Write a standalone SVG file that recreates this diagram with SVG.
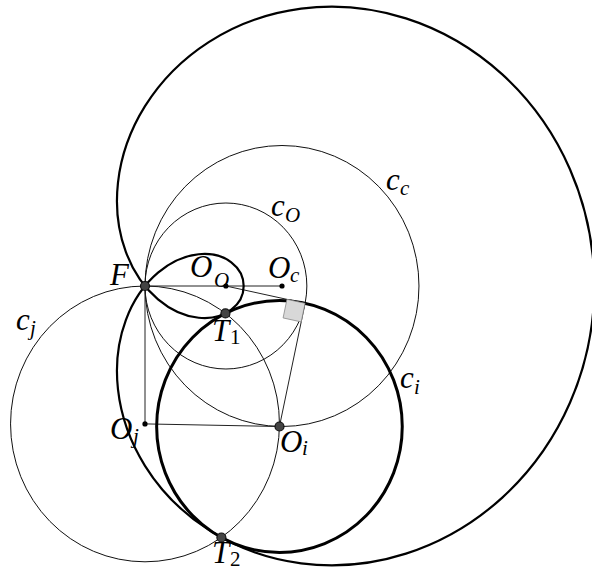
<svg xmlns="http://www.w3.org/2000/svg" width="592" height="575" viewBox="0 0 592 575">
<style>
.thin{fill:none;stroke:#111;stroke-width:1;vector-effect:non-scaling-stroke}
.thick{fill:none;stroke:#000;stroke-width:2.2;vector-effect:non-scaling-stroke}
.thicker{fill:none;stroke:#000;stroke-width:3;vector-effect:non-scaling-stroke}
.ln{fill:none;stroke:#222;stroke-width:1;vector-effect:non-scaling-stroke}
.big{fill:#444;stroke:#111;stroke-width:1.2}
.small{fill:#000}
text{font-family:"Liberation Serif","Times New Roman",serif;font-style:italic;fill:#000}
.m{font-size:31px}
.s{font-size:21px}
.up{font-style:normal}
</style>
<rect width="592" height="575" fill="#fff"/>
<g transform="translate(145 286) scale(0.975 1)">
  <g id="cO"><circle class="thin" cx="83" cy="0" r="83"/></g>
  <g id="cc"><circle class="thin" cx="140.5" cy="0" r="140.5"/></g>
  <g id="cj"><circle class="thin" cx="0" cy="137.9" r="137.9"/></g>
  <g id="connectors">
    <path class="ln" d="M0 0H140.5"/>
    <path class="ln" d="M0 0V137.9"/>
    <path class="ln" d="M0 137.9L137.9 140.5"/>
    <path class="ln" d="M83 0L164.17 17.32"/>
    <path class="ln" d="M137.9 140.5L164.17 17.32"/>
  </g>
  <g id="ci"><circle class="thicker" cx="137.9" cy="140.5" r="125.96"/></g>
  <g id="limacon"><path class="thick" d="M460.8 0C460.8 40.21 452.17 80.40 435.85 116.79C419.53 153.18 395.54 185.73 366.46 211.58C337.38 237.43 303.26 256.54 267.64 267.64C232.02 278.74 194.97 281.81 160.15 277.39C125.33 272.97 92.78 261.10 65.36 243.92C37.94 226.74 15.69 204.32 0 179.8C-15.69 155.28 -24.82 128.72 -27.71 103.42C-30.60 78.12 -27.30 54.15 -19.65 34.04C-12.00 13.93 -0.07 -2.26 13.36 -13.36C26.79 -24.46 41.65 -30.45 55.04 -31.78C68.43 -33.11 80.30 -29.79 88.50 -23.71C96.70 -17.63 101.2 -8.83 101.2 0C101.2 8.83 96.70 17.63 88.50 23.71C80.30 29.79 68.43 33.11 55.04 31.78C41.65 30.45 26.79 24.46 13.36 13.36C-0.07 2.26 -12.00 -13.93 -19.65 -34.04C-27.30 -54.15 -30.60 -78.12 -27.71 -103.42C-24.82 -128.72 -15.69 -155.28 0 -179.8C15.69 -204.32 37.94 -226.74 65.36 -243.92C92.78 -261.10 125.33 -272.97 160.15 -277.39C194.97 -281.81 232.02 -278.74 267.64 -267.64C303.26 -256.54 337.38 -237.43 366.46 -211.58C395.54 -185.73 419.53 -153.18 435.85 -116.79C452.17 -80.40 460.8 -40.21 460.8 0Z"/></g>
  <g id="rightangle"><polygon points="164.17,17.32 145.59,13.35 141.63,31.93 160.21,35.90" fill="#d8d8d8" stroke="#888" stroke-width="0.8" vector-effect="non-scaling-stroke"/></g>
</g>
<g id="labels-circles">
  <text class="m" x="271" y="216">c</text><text class="s" x="285" y="222">O</text>
  <text class="m" x="386" y="190">c</text><text class="s" x="400" y="195">c</text>
  <text class="m" x="16" y="330">c</text><text class="s" x="30" y="335">j</text>
  <text class="m" x="400" y="388">c</text><text class="s" x="414" y="394">i</text>
</g>
<g id="F"><circle class="big" cx="145" cy="286" r="4.5"/><text class="m" x="110" y="285">F</text></g>
<g id="OO"><circle class="small" cx="225.9" cy="286" r="2.6"/><text class="m" x="190" y="277">O</text><text class="s" x="214" y="287">O</text></g>
<g id="Oc"><circle class="small" cx="282" cy="286" r="2.6"/><text class="m" x="268" y="278">O</text><text class="s" x="290" y="282">c</text></g>
<g id="Oj"><circle class="small" cx="145" cy="423.9" r="2.6"/><text class="m" x="110" y="439">O</text><text class="s" x="133" y="443">j</text></g>
<g id="Oi"><circle class="big" cx="279.5" cy="426.5" r="4.5"/><text class="m" x="280" y="452">O</text><text class="s" x="302" y="455">i</text></g>
<g id="T1"><circle class="big" cx="225.4" cy="313.4" r="4.5"/><text class="m" x="212" y="341">T</text><text class="s up" x="230" y="344">1</text></g>
<g id="T2"><circle class="big" cx="221.4" cy="537.5" r="4.5"/><text class="m" x="212" y="563">T</text><text class="s up" x="230" y="566">2</text></g>
</svg>
